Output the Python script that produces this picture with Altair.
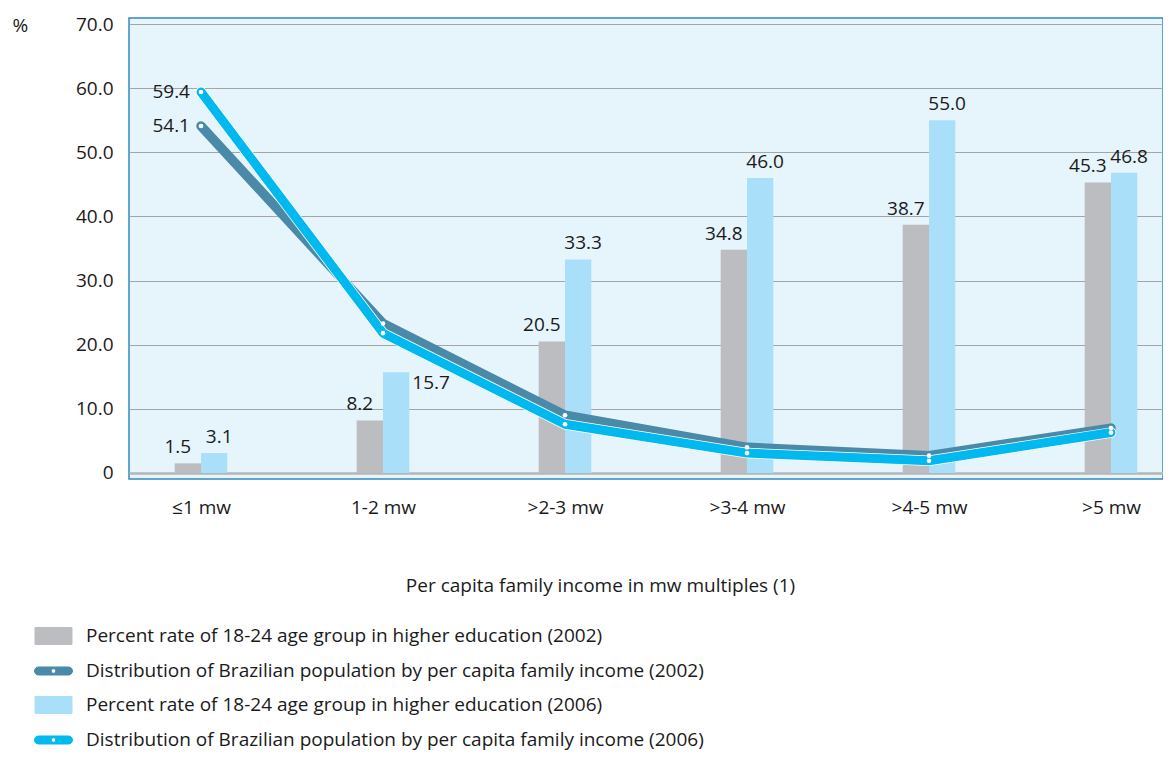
import json
import altair as alt
import pandas as pd

# ---------------- data ----------------
categories = ["≤1 mw", "1-2 mw", ">2-3 mw", ">3-4 mw", ">4-5 mw", ">5 mw"]
edu_2002 = [1.5, 8.2, 20.5, 34.8, 38.7, 45.3]
edu_2006 = [3.1, 15.7, 33.3, 46.0, 55.0, 46.8]
pop_2002 = [54.1, 23.3, 9.0, 4.0, 2.7, 7.0]
pop_2006 = [59.4, 21.8, 7.6, 3.1, 1.9, 6.3]

S_EDU02 = "Percent rate of 18-24 age group in higher education (2002)"
S_POP02 = "Distribution of Brazilian population by per capita family income (2002)"
S_EDU06 = "Percent rate of 18-24 age group in higher education (2006)"
S_POP06 = "Distribution of Brazilian population by per capita family income (2006)"
series_order = [S_EDU02, S_POP02, S_EDU06, S_POP06]
series_colors = ["#bcbdc0", "#4a8aa8", "#aadff9", "#00b9ee"]

y_ticks = [0, 10, 20, 30, 40, 50, 60, 70]

rows = []
for i, c in enumerate(categories):
    rows.append(dict(idx=i, cat=c, series=S_EDU02, year=2002, kind="bar", value=edu_2002[i]))
    rows.append(dict(idx=i, cat=c, series=S_EDU06, year=2006, kind="bar", value=edu_2006[i]))
    rows.append(dict(idx=i, cat=c, series=S_POP02, year=2002, kind="line", value=pop_2002[i]))
    rows.append(dict(idx=i, cat=c, series=S_POP06, year=2006, kind="line", value=pop_2006[i]))
df = pd.DataFrame(rows)

FONT = "Open Sans"
FS = 19
TXT = "#1a1a1a"
HALF = 0.1445  # bar width in category units

# ---------------- scales ----------------
x_scale = alt.Scale(domain=[-0.3956, 5.2857], nice=False, zero=False)
y_scale = alt.Scale(domain=[-0.94, 70.94], nice=False, zero=False)

label_expr = json.dumps(categories, ensure_ascii=False) + "[datum.value]"

x_axis = alt.Axis(
    values=list(range(len(categories))), labelExpr=label_expr,
    grid=False, ticks=False, domain=False, labelFlush=False, labelOverlap=False,
    labelFont=FONT, labelFontSize=FS, labelColor=TXT, labelPadding=28,
    labelBaseline="middle",
    title="Per capita family income in mw multiples (1)",
    titleFont=FONT, titleFontSize=FS, titleColor=TXT, titleFontWeight="normal",
    titleX=471, titleY=106, titleAlign="center", titleBaseline="middle", titleAnchor="start",
)
y_axis = alt.Axis(
    values=y_ticks, labelExpr="datum.value == 0 ? '0' : format(datum.value, '.1f')",
    grid=True, gridColor={"condition": {"test": "datum.value === 0", "value": "#b4b6b8"}, "value": "#a3a5a7"},
    gridWidth={"condition": {"test": "datum.value === 0", "value": 2.4}, "value": 1.2},
    ticks=False, domain=False, labelFont=FONT, labelFontSize=FS, labelColor=TXT,
    labelPadding=16, labelFlush=False, labelOverlap=False,
    title="%", titleAngle=0, titleFont=FONT, titleFontSize=FS, titleColor=TXT,
    titleFontWeight="normal", titleX=-117, titleY=7, titleAlign="left", titleBaseline="middle",
)

# ---------------- legend ----------------
rect_path = "M-1.057,-0.486L1.057,-0.486L1.057,0.486L-1.057,0.486Z"
pill_path = ("M-0.857,-0.229L0.857,-0.229A0.229,0.229 0 0 1 0.857,0.229L-0.857,0.229"
             "A0.229,0.229 0 0 1 -0.857,-0.229Z"
             "M0.131,0A0.131,0.131 0 0 0 -0.131,0A0.131,0.131 0 0 0 0.131,0Z")
is_bar = "indexof(datum.value, 'Percent') == 0"
legend = alt.Legend(
    title=None, orient="none", legendX=-93.5, legendY=600, direction="vertical",
    padding=0, rowPadding=6, symbolSize=1225, symbolStrokeWidth=1,
    symbolType=alt.ExprRef(expr=f"{is_bar} ? '{rect_path}' : '{pill_path}'"),
    symbolStrokeColor=alt.ExprRef(expr=f"{is_bar} ? '#a0a4a8' : 'transparent'"),
    symbolOpacity=1,
    labelFont=FONT, labelFontSize=FS, labelColor=TXT, labelOffset=14.5, labelLimit=1000,
)
color = alt.Color("series:N", scale=alt.Scale(domain=series_order, range=series_colors), legend=legend)

base = alt.Chart(df)
bars_src = base.transform_filter("datum.kind == 'bar'").transform_calculate(
    x0=f"datum.idx + (datum.year == 2002 ? {-HALF} : 0)",
    x1=f"datum.idx + (datum.year == 2002 ? 0 : {HALF})",
    xc=f"datum.idx + (datum.year == 2002 ? {-HALF / 2} : {HALF / 2})",
)

bars = bars_src.mark_bar().encode(
    x=alt.X("x0:Q", scale=x_scale, axis=x_axis),
    x2="x1:Q",
    y=alt.Y("value:Q", scale=y_scale, axis=y_axis),
    y2=alt.datum(0),
    color=color,
)

lab_kw = dict(font=FONT, fontSize=FS, color=TXT, baseline="middle")
lab02 = bars_src.transform_filter("datum.year == 2002").mark_text(dx=-10, dy=-16, **lab_kw).encode(
    x=alt.X("xc:Q", scale=x_scale), y=alt.Y("value:Q", scale=y_scale), text=alt.Text("value:Q", format=".1f"))
lab06 = bars_src.transform_filter("datum.year == 2006 && datum.idx != 1").mark_text(dx=5, dy=-16, **lab_kw).encode(
    x=alt.X("xc:Q", scale=x_scale), y=alt.Y("value:Q", scale=y_scale), text=alt.Text("value:Q", format=".1f"))
lab06b = bars_src.transform_filter("datum.year == 2006 && datum.idx == 1").mark_text(
    dx=3, dy=11, align="left", **lab_kw).encode(
    x=alt.X("x1:Q", scale=x_scale), y=alt.Y("value:Q", scale=y_scale), text=alt.Text("value:Q", format=".1f"))

line_src = base.transform_filter("datum.kind == 'line'")
line_kw = dict(strokeCap="round", strokeJoin="round")
line02 = line_src.transform_filter("datum.year == 2002").mark_line(strokeWidth=9.5, **line_kw).encode(
    x=alt.X("idx:Q", scale=x_scale), y=alt.Y("value:Q", scale=y_scale), color=color)
line06w = line_src.transform_filter("datum.year == 2006").mark_line(strokeWidth=10.5, color="white", **line_kw).encode(
    x=alt.X("idx:Q", scale=x_scale), y=alt.Y("value:Q", scale=y_scale))
line06 = line_src.transform_filter("datum.year == 2006").mark_line(strokeWidth=9, **line_kw).encode(
    x=alt.X("idx:Q", scale=x_scale), y=alt.Y("value:Q", scale=y_scale), color=color)
dots = line_src.mark_point(filled=True, fill="white", size=22, opacity=1, shape="circle").encode(
    x=alt.X("idx:Q", scale=x_scale), y=alt.Y("value:Q", scale=y_scale))
line_labels = line_src.transform_filter("datum.idx == 0").mark_text(align="right", dx=-11, **lab_kw).encode(
    x=alt.X("idx:Q", scale=x_scale), y=alt.Y("value:Q", scale=y_scale), text=alt.Text("value:Q", format=".1f"))

chart = alt.layer(
    bars, lab02, lab06, lab06b, line02, line06w, line06, dots, line_labels
).properties(
    width=1034, height=461,
    padding={"left": 121, "top": 10, "right": 0, "bottom": 274},
    autosize=alt.AutoSizeParams(type="none"),
    background="white",
).configure_view(
    fill="#e6f4fb", stroke="#2f8bc0", strokeWidth=1.5
)

chart.save("out.html", embed_options={"renderer": "svg", "actions": False})
